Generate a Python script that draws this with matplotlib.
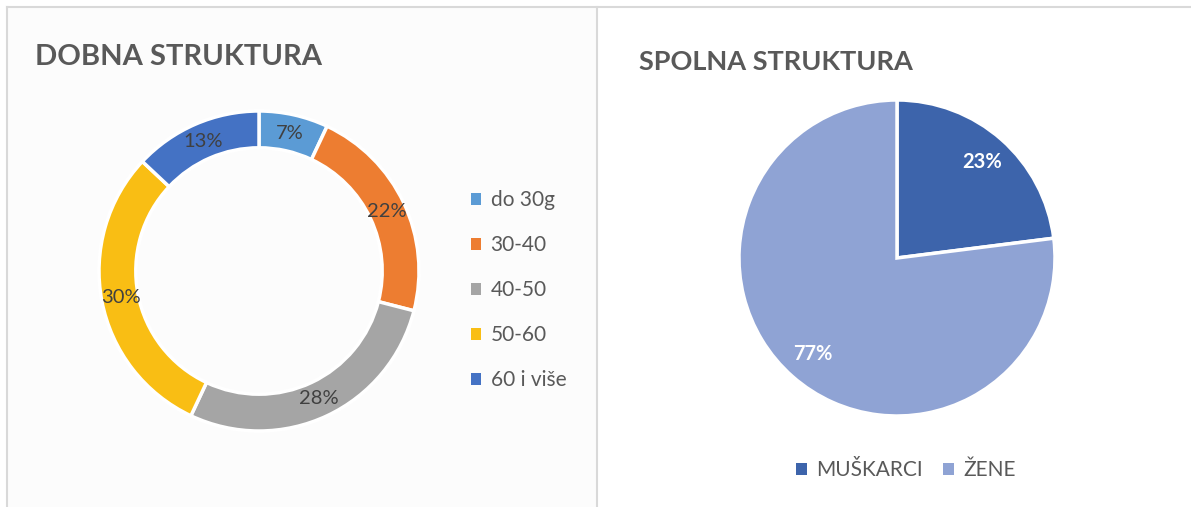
import numpy as np
import matplotlib.pyplot as plt
from matplotlib.lines import Line2D
from matplotlib.patches import Rectangle

# [1] Data
age_labels = ["do 30g", "30-40", "40-50", "50-60", "60 i više"]
age_values = [7, 22, 28, 30, 13]
age_colors = ["#5B9BD5", "#ED7D31", "#A5A5A5", "#F9BE14", "#4472C4"]

sex_labels = ["MUŠKARCI", "ŽENE"]
sex_values = [23, 77]
sex_colors = ["#3D64AB", "#8FA3D4"]

W, H = 1191, 507
plt.rcParams["font.family"] = ["Lato", "DejaVu Sans"]


def fx(px):
    return px / W


def fy(py):
    return 1 - py / H


# [2] Figure and panel frames
fig = plt.figure(figsize=(W / 100, H / 100), dpi=100)
fig.patch.set_facecolor("white")
fig.add_artist(Rectangle((fx(7), 0), fx(597) - fx(7), fy(7), transform=fig.transFigure,
                         facecolor="#FCFCFC", edgecolor="none", zorder=0))
border = "#D9D9D9"
fig.add_artist(Line2D([fx(7), 1], [fy(7), fy(7)], transform=fig.transFigure, color=border, lw=1.5))
fig.add_artist(Line2D([fx(7), fx(7)], [0, fy(7)], transform=fig.transFigure, color=border, lw=1.5))
fig.add_artist(Line2D([fx(597), fx(597)], [0, fy(7)], transform=fig.transFigure, color=border, lw=1.5))

fig.text(fx(35), fy(57), "DOBNA STRUKTURA", fontsize=21, fontweight="bold",
         color="#595959", va="center", ha="left")
fig.text(fx(639), fy(62), "SPOLNA STRUKTURA", fontsize=19.5, fontweight="bold",
         color="#595959", va="center", ha="left")


def square_axes(cx, cy, r):
    ax = fig.add_axes([fx(cx - r), fy(cy + r), 2 * r / W, 2 * r / H])
    return ax


# [3] Donut chart
ax1 = square_axes(259, 271, 160)
wedges, _ = ax1.pie(age_values, colors=age_colors, startangle=90, counterclock=False,
                    radius=1.0, wedgeprops=dict(width=0.23, edgecolor="white", linewidth=2.5))
ax1.set_xlim(-1, 1)
ax1.set_ylim(-1, 1)
total = sum(age_values)
start = 90.0
for v in age_values:
    mid = np.deg2rad(start - 360 * v / total / 2)
    ax1.text(0.88 * np.cos(mid), 0.88 * np.sin(mid), f"{v}%", ha="center", va="center",
             fontsize=14.5, color="#404040")
    start -= 360 * v / total

handles = [Rectangle((0, 0), 1, 1, facecolor=c) for c in age_colors]
fig.legend(handles, age_labels, loc="center left", bbox_to_anchor=(fx(452), fy(290)),
           frameon=False, fontsize=15, labelcolor="#595959", handlelength=0.5,
           handleheight=0.5, handletextpad=0.45, labelspacing=1.2)

# [4] Pie chart
ax2 = square_axes(897, 258, 158)
ax2.pie(sex_values, colors=sex_colors, startangle=90, counterclock=False, radius=1.0,
        wedgeprops=dict(edgecolor="white", linewidth=2.5))
ax2.set_xlim(-1, 1)
ax2.set_ylim(-1, 1)
start = 90.0
for v in sex_values:
    mid = np.deg2rad(start - 360 * v / 100 / 2)
    ax2.text(0.81 * np.cos(mid), 0.81 * np.sin(mid), f"{v}%", ha="center", va="center",
             fontsize=14.5, fontweight="bold", color="white")
    start -= 360 * v / 100

handles = [Rectangle((0, 0), 1, 1, facecolor=c) for c in sex_colors]
fig.legend(handles, sex_labels, loc="center", bbox_to_anchor=(fx(906), fy(470)), ncol=2,
           frameon=False, fontsize=15, labelcolor="#595959", handlelength=0.5,
           handleheight=0.5, handletextpad=0.45, columnspacing=1.0)

fig.savefig("out.png", dpi=100)
